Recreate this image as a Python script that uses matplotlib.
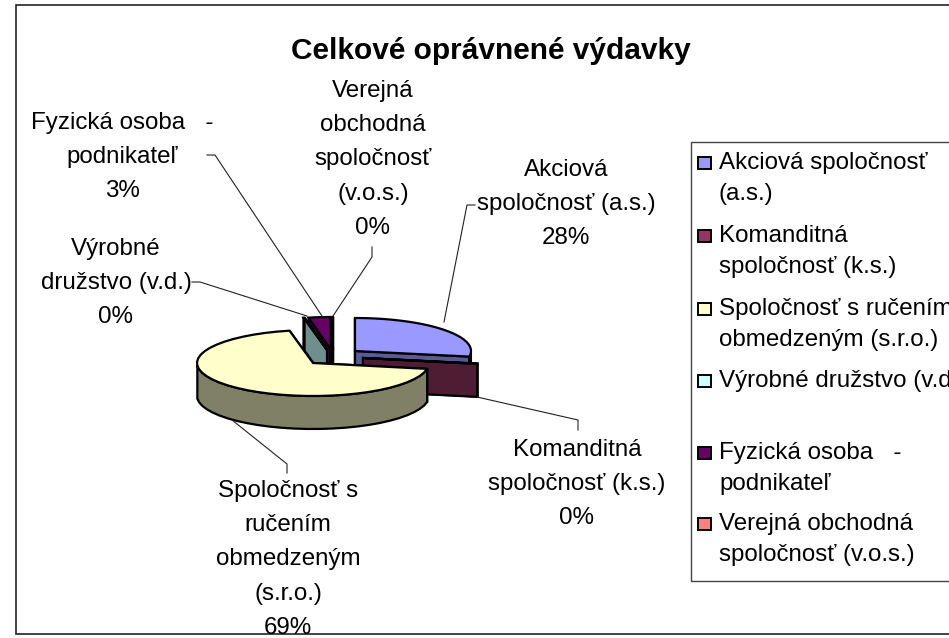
import numpy as np
import matplotlib
matplotlib.use('Agg')
import matplotlib.pyplot as plt
from matplotlib.patches import Polygon, Rectangle

plt.rcParams['font.family'] = ['Liberation Sans', 'DejaVu Sans']

title = 'Celkové oprávnené výdavky'
shares = [27.7, 0.15, 68.9, 0.15, 2.95, 0.15]
top_colors = ['#9999FF', '#993366', '#FFFFCC', '#CCFFFF', '#660066', '#FF8080']
side_colors = ['#5A5A96', '#4F1D33', '#808066', '#6F8F8F', '#3A003A', '#804040']
# pixel offset of each exploded slice from the pie centre
offsets = [(42, -12), (50, -5), (0, 0), (14, -13), (18, -13), (20, -13)]
legend_lines = [['Akciová spoločnosť', '(a.s.)'],
                ['Komanditná', 'spoločnosť (k.s.)'],
                ['Spoločnosť s ručením', 'obmedzeným (s.r.o.)'],
                ['Výrobné družstvo (v.d.)', ''],
                ['Fyzická osoba   -', 'podnikateľ'],
                ['Verejná obchodná', 'spoločnosť (v.o.s.)']]
legend_y = [163, 236, 309, 381, 453, 524]
labels = [(['Akciová', 'spoločnosť (a.s.)', '28%'], 566, 170),
          (['Komanditná', 'spoločnosť (k.s.)', '0%'], 577, 450),
          (['Spoločnosť s', 'ručením', 'obmedzeným', '(s.r.o.)', '69%'], 288, 491),
          (['Výrobné', 'družstvo (v.d.)', '0%'], 116, 249),
          (['Fyzická osoba   -', 'podnikateľ', '3%'], 122, 123),
          (['Verejná', 'obchodná', 'spoločnosť', '(v.o.s.)', '0%'], 373, 91)]
leaders = [[(444, 322), (467, 205), (475, 205)],
           [(477, 397), (578, 420), (578, 430)],
           [(232, 420), (287, 464), (287, 473)],
           [(307, 316), (200, 282), (192, 282)],
           [(322, 316), (215, 155), (207, 155)],
           [(333, 316), (372, 257), (372, 247)]]

CX, CY, A, B, DEPTH = 313, 363, 116, 33, 33

fig = plt.figure(figsize=(9.49, 6.38), dpi=100)
ax = fig.add_axes([0, 0, 1, 1])
ax.set_xlim(0, 949)
ax.set_ylim(638, 0)
ax.axis('off')

ax.add_patch(Rectangle((16, 5), 960, 629, fc='white', ec='#222222', lw=1.2))


def rim(start, end, n=40):
    t = np.radians(np.linspace(start, end, n))
    return np.column_stack([A * np.sin(t), -B * np.cos(t)])


edges = np.cumsum([0] + shares) / sum(shares) * 360
order = [0, 5, 4, 3, 1, 2]
for i in order:
    start, end = edges[i], edges[i + 1]
    ox, oy = offsets[i]
    c = np.array([CX + ox, CY + oy])
    arc = rim(start, end) + c
    down = np.array([0, DEPTH])
    # the two cut faces, then the outer wall, then the top
    ax.add_patch(Polygon([c, arc[0], arc[0] + down, c + down], fc=side_colors[i], ec='black', lw=1.6))
    ax.add_patch(Polygon([c, arc[-1], arc[-1] + down, c + down], fc=side_colors[i], ec='black', lw=1.6))
    front = arc[np.abs(np.radians(np.linspace(start, end, 40)) - np.pi) < np.pi / 2]
    if len(front) > 1:
        wall = np.vstack([front, (front + down)[::-1]])
        ax.add_patch(Polygon(wall, fc=side_colors[i], ec='black', lw=1.6))
    ax.add_patch(Polygon(np.vstack([c, arc]), fc=top_colors[i], ec='black', lw=1.6))

for pts in leaders:
    pts = np.array(pts)
    ax.plot(pts[:, 0], pts[:, 1], color='#222222', lw=0.8)

ax.text(491, 51, title, ha='center', va='center', fontsize=21.5, fontweight='bold')
for lines, x, y in labels:
    for k, line in enumerate(lines):
        ax.text(x, y + k * 34.2, line, ha='center', va='center', fontsize=17.4)

ax.add_patch(Rectangle((691, 142), 300, 439, fc='white', ec='#444444', lw=1))
for lines, y, col in zip(legend_lines, legend_y, top_colors):
    ax.add_patch(Rectangle((698, y - 6), 13, 12, fc=col, ec='black', lw=1.4))
    for k, line in enumerate(lines):
        ax.text(719, y + k * 31, line, ha='left', va='center', fontsize=17.4)

fig.savefig('out.png', dpi=100)
